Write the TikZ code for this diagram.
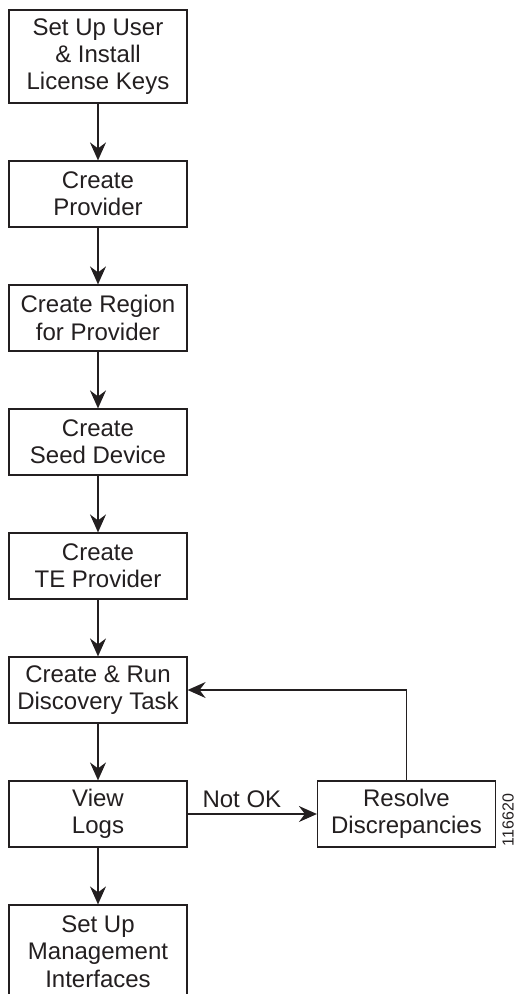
\documentclass[tikz,border=0pt]{standalone}
\usepackage{fontspec}
\setmainfont{Liberation Sans}
\usepackage{xcolor}
\usepackage{tikz}
\usetikzlibrary{arrows.meta, positioning, calc}
\definecolor{inkgray}{HTML}{231F20}

\begin{document}
\begin{tikzpicture}[
    x=1pt, y=-1pt,
    stepbox/.style={rectangle, draw=inkgray, fill=white, minimum width=178pt,
                   minimum height=66pt, inner sep=0pt, line width=1.2pt,
                   font=\fontsize{24}{27.3}\selectfont, align=center, text=inkgray},
    tallbox/.style={stepbox, minimum height=93pt},
    arrow/.style={-{Stealth[length=18pt, width=16pt, inset=6pt]}, line width=1.4pt, draw=inkgray}
]
\useasboundingbox (0,0) rectangle (516,994);

% Main flow
\node[tallbox] at (98,56.5) (license) {Set Up User\\\& Install\\License Keys};
\node[stepbox] at (98,194) (provider) {Create\\Provider};
\node[stepbox] at (98,318) (region) {Create Region\\for Provider};
\node[stepbox] at (98,442) (seed) {Create\\Seed Device};
\node[stepbox] at (98,566) (teprov) {Create\\TE Provider};
\node[stepbox] at (98,690) (discovery) {Create \& Run\\Discovery Task};
\node[stepbox] at (98,814) (logs) {View\\Logs};
\node[tallbox] at (98,951.5) (mgmt) {Set Up\\Management\\Interfaces};

% Side branch
\node[stepbox] at (406.5,814) (resolve) {Resolve\\Discrepancies};
\node[rotate=90, font=\fontsize{16}{16}\selectfont, text=inkgray] at (508,820) (figid) {116620};

% Connections
\draw[arrow] (license) -- (provider);
\draw[arrow] (provider) -- (region);
\draw[arrow] (region) -- (seed);
\draw[arrow] (seed) -- (teprov);
\draw[arrow] (teprov) -- (discovery);
\draw[arrow] (discovery) -- (logs);
\draw[arrow] (logs) -- (mgmt);
\draw[arrow] (logs) -- node[above=3pt, pos=0.42, inner sep=3pt, font=\fontsize{24}{27.3}\selectfont, text=inkgray] (notok) {Not OK} (resolve);
\draw[arrow] (resolve.north) |- (discovery.east);

\end{tikzpicture}
\end{document}
